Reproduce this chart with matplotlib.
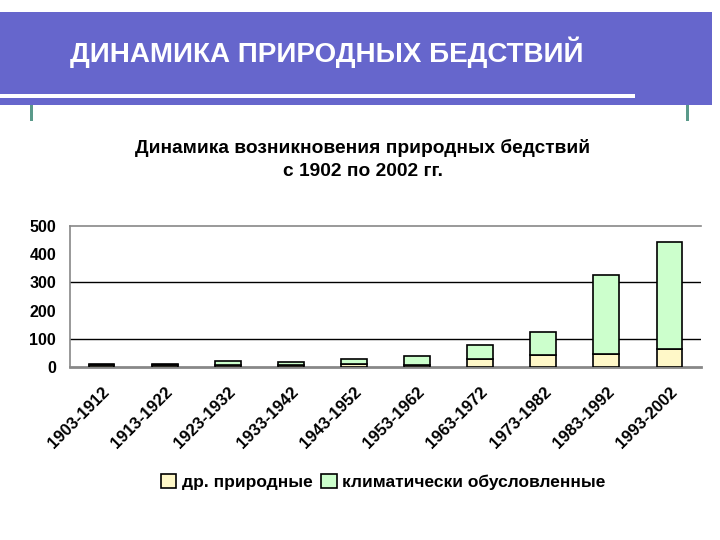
import matplotlib.pyplot as plt
from matplotlib.patches import Rectangle
import numpy as np

plt.rcParams['font.family'] = ['Liberation Sans', 'DejaVu Sans']

periods = ['1903-1912', '1913-1922', '1923-1932', '1933-1942', '1943-1952',
           '1953-1962', '1963-1972', '1973-1982', '1983-1992', '1993-2002']
other = [8, 8, 8, 10, 12, 7, 30, 43, 46, 64]          # др. природные
climatic = [4, 4, 14, 8, 16, 33, 48, 83, 281, 377]    # климатически обусловленные
yticks = [0, 100, 200, 300, 400, 500]

W, H = 720, 540
fig = plt.figure(figsize=(7.2, 5.4), dpi=100)

# header band
fig.patches.append(Rectangle((0, 1 - 105 / H), 712 / W, 93 / H, transform=fig.transFigure,
                             facecolor='#6666cc', edgecolor='none', zorder=0))
fig.patches.append(Rectangle((0, 1 - 98 / H), 635 / W, 4 / H, transform=fig.transFigure,
                             facecolor='white', edgecolor='none', zorder=1))
for xp in [30, 686]:
    fig.patches.append(Rectangle((xp / W, 1 - 121 / H), 3 / W, 16 / H, transform=fig.transFigure,
                                 facecolor='#5a9a8a', edgecolor='none', zorder=1))
fig.text(70 / W, 1 - 52 / H, 'ДИНАМИКА ПРИРОДНЫХ БЕДСТВИЙ', color='white',
         fontsize=20, fontweight='bold', va='center', ha='left')

fig.text(363 / W, 1 - 148 / H, 'Динамика возникновения природных бедствий',
         fontsize=13.8, fontweight='bold', ha='center', va='center')
fig.text(363 / W, 1 - 172 / H, 'с 1902 по 2002 гг.',
         fontsize=13.8, fontweight='bold', ha='center', va='center')

ax = fig.add_axes([70 / W, 172.6 / H, 631 / W, 141.8 / H])
x = np.arange(len(periods))
ax.bar(x, other, width=0.41, color='#fff8c8', edgecolor='black', linewidth=1.2,
       label='др. природные', zorder=3)
ax.bar(x, climatic, bottom=other, width=0.41, color='#ccffcc', edgecolor='black',
       linewidth=1.2, label='климатически обусловленные', zorder=3)

ax.set_xlim(-0.5, len(periods) - 0.5)
ax.set_ylim(0, 500)
ax.set_yticks(yticks)
ax.set_yticklabels([str(v) for v in yticks], fontsize=11.5, fontweight='bold')
for v in [100, 300]:
    ax.axhline(v, color='black', linewidth=1.0, zorder=1)
ax.set_xticks(x)
ax.set_xticklabels(periods, rotation=45, ha='right', rotation_mode='anchor',
                   fontsize=12, fontweight='bold')
ax.tick_params(axis='y', length=0, pad=10)
ax.tick_params(axis='x', length=0, pad=12)
ax.spines['right'].set_visible(False)
for s in ['top', 'left']:
    ax.spines[s].set_color('#888888')
    ax.spines[s].set_linewidth(1.2)
ax.spines['bottom'].set_color('#888888')
ax.spines['bottom'].set_linewidth(2)

handles, labels = ax.get_legend_handles_labels()
fig.legend(handles, labels, loc='center', bbox_to_anchor=(383 / W, 1 - 482 / H), ncol=2,
           frameon=False, prop={'weight': 'bold', 'size': 12.5},
           handlelength=0.9, handleheight=0.9, handletextpad=0.3, columnspacing=0.5)

fig.savefig('out.png', dpi=100)
